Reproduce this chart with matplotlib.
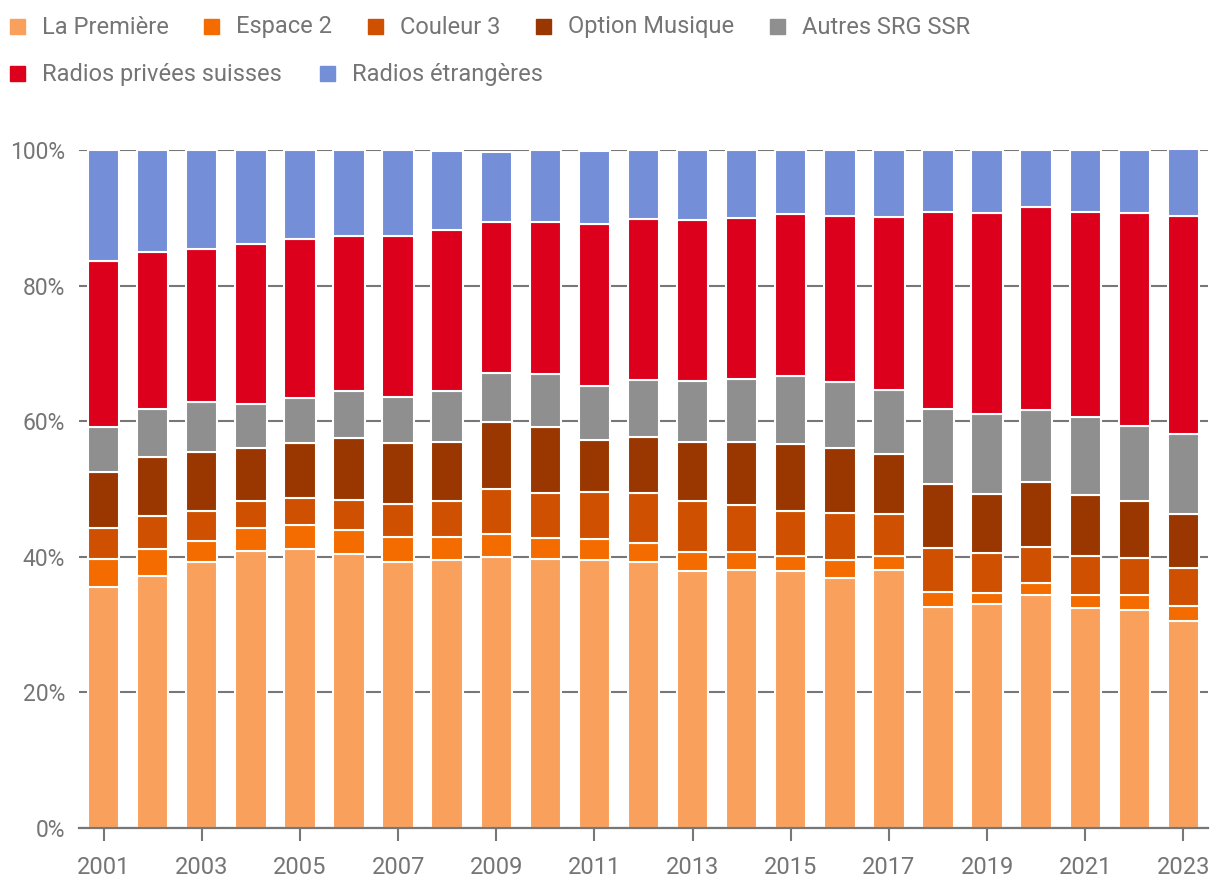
import matplotlib
matplotlib.use("Agg")
import matplotlib.pyplot as plt
from matplotlib.patches import Rectangle
import numpy as np

plt.rcParams['font.family'] = ['Roboto', 'DejaVu Sans']

years = list(range(2001, 2024))
series_names = ["La Première", "Espace 2", "Couleur 3", "Option Musique",
                "Autres SRG SSR", "Radios privées suisses", "Radios étrangères"]
la_premiere = [35.6, 37.2, 39.3, 40.8, 41.1, 40.4, 39.3, 39.5, 39.9, 39.7, 39.6, 39.2,
               37.9, 38.1, 37.9, 36.9, 38.0, 32.6, 33.0, 34.3, 32.5, 32.2, 30.5]
espace2 = [4.1, 3.9, 3.1, 3.4, 3.6, 3.6, 3.6, 3.4, 3.4, 3.0, 3.0, 2.8,
           2.8, 2.6, 2.2, 2.7, 2.1, 2.2, 1.6, 1.9, 1.8, 2.1, 2.3]
couleur3 = [4.5, 4.9, 4.4, 4.0, 4.0, 4.4, 4.9, 5.3, 6.7, 6.7, 6.9, 7.4,
            7.5, 6.9, 6.6, 6.8, 6.2, 6.5, 5.9, 5.3, 5.8, 5.5, 5.6]
option_musique = [8.3, 8.7, 8.6, 7.8, 8.1, 9.1, 9.0, 8.7, 9.9, 9.7, 7.7, 8.2,
                  8.7, 9.4, 10.0, 9.6, 8.8, 9.5, 8.7, 9.5, 9.0, 8.4, 7.9]
autres_srg = [6.7, 7.1, 7.4, 6.6, 6.6, 7.0, 6.8, 7.6, 7.2, 7.8, 8.0, 8.5,
              9.0, 9.2, 10.0, 9.8, 9.5, 11.0, 11.9, 10.7, 11.5, 11.1, 11.8]
radios_privees = [24.4, 23.2, 22.6, 23.5, 23.5, 22.8, 23.7, 23.7, 22.3, 22.5, 23.9, 23.7,
                  23.8, 23.8, 23.9, 24.5, 25.5, 29.1, 29.6, 29.9, 30.3, 31.4, 32.1]
radios_etrangeres = [16.4, 15.0, 14.6, 13.9, 13.1, 12.7, 12.7, 11.6, 10.35, 10.6, 10.8, 10.2,
                     10.3, 10.0, 9.4, 9.7, 9.9, 9.1, 9.3, 8.4, 9.1, 9.3, 9.9]
y_ticks = [0, 20, 40, 60, 80, 100]
y_tick_labels = ["0%", "20%", "40%", "60%", "80%", "100%"]

colors = ["#F9A05C", "#F46B00", "#CE5000", "#9A3700", "#8F8F8F", "#DC001C", "#748ED8"]
data = [la_premiere, espace2, couleur3, option_musique, autres_srg,
        radios_privees, radios_etrangeres]

TXT = "#757575"
fig = plt.figure(figsize=(12.2, 8.96), dpi=100)
ax = fig.add_axes([79/1220, 1-828/896, (1208-79)/1220, (828-150)/896])

x = np.arange(len(years))
bottom = np.zeros(len(years))
for vals, c, name in zip(data, colors, series_names):
    v = np.array(vals)
    ax.bar(x, v, bottom=bottom, width=0.64, color=c, edgecolor="white",
           linewidth=1.5, zorder=3, label=name)
    bottom += v

ax.set_xlim(-0.5, len(years) - 0.5)
ax.set_ylim(0, 100)
ax.set_yticks(y_ticks)
ax.set_yticklabels(y_tick_labels)
ax.yaxis.grid(True, color="#777777", linewidth=1.5, zorder=0)
ax.set_axisbelow(True)
ax.tick_params(axis="y", length=0, pad=10, labelsize=16.5, labelcolor=TXT)
ax.set_xticks(x[::2])
ax.set_xticklabels([str(y) for y in years[::2]])
ax.tick_params(axis="x", length=9, width=1.5, color="#777777", pad=11,
               labelsize=17, labelcolor=TXT)
for s in ["top", "right", "left"]:
    ax.spines[s].set_visible(False)
ax.spines["bottom"].set_color("#777777")
ax.spines["bottom"].set_linewidth(1.6)
ax.spines["bottom"].set_zorder(4)

# manual legend (flow layout, two rows)
legend_pos = [(10, 27), (204, 27), (368, 27), (536, 27), (770, 27),
              (10, 74), (320, 74)]
for (px, py), c, name in zip(legend_pos, colors, series_names):
    fig.patches.append(Rectangle((px/1220, 1-(py+7.5)/896), 15/1220, 15/896,
                                 transform=fig.transFigure, color=c))
    fig.text((px+32)/1220, 1-py/896, name, fontsize=17, color=TXT,
             va="center", ha="left")

fig.savefig("out.png", dpi=100)
